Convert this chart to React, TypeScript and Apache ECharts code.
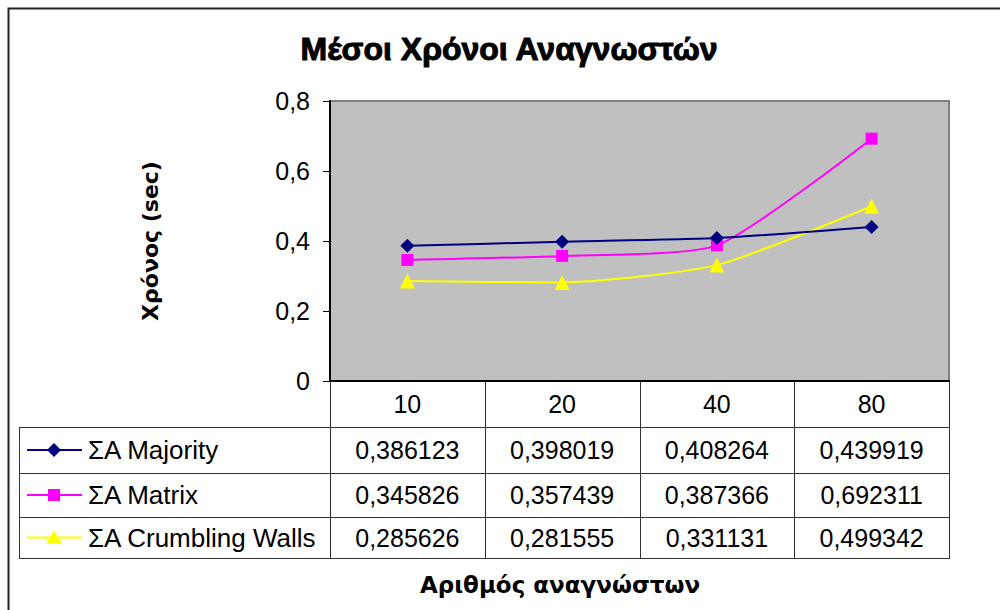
import React, { useEffect, useRef } from "react";
import * as echarts from "echarts";

const categories = ["10", "20", "40", "80"];
const seriesNames = ["ΣΑ Majority", "ΣΑ Matrix", "ΣΑ Crumbling Walls"];
const majority = [0.386123, 0.398019, 0.408264, 0.439919];
const matrix = [0.345826, 0.357439, 0.387366, 0.692311];
const crumbling = [0.285626, 0.281555, 0.331131, 0.499342];
const yTicks = [0, 0.2, 0.4, 0.6, 0.8];

const colors = ["#000080", "#FF00FF", "#FFFF00"];
const symbols = ["diamond", "rect", "triangle"];
const symbolSizes = [14, 12, 15];

const PLOT_L = 330;
const PLOT_R = 949;
const PLOT_T = 101;
const PLOT_B = 381;
const TABLE_L = 19;
const ROW_LINES = [381, 427, 473, 517, 558];
const FONT = "'Liberation Sans', Arial, sans-serif";
const TFS = 25;

const fmt = (v: number) => v.toFixed(6).replace(".", ",");

export default function App() {
  const ref = useRef<HTMLDivElement>(null);
  useEffect(() => {
    if (!ref.current) return;
    const chart = echarts.init(ref.current, undefined, { renderer: "svg" });
    const data = [majority, matrix, crumbling];
    const colW = (PLOT_R - PLOT_L) / categories.length;
    const lineColor = "#333333";
    const graphic: any[] = [];
    // outer border
    graphic.push({
      type: "rect",
      shape: { x: 8.5, y: 8.5, width: 1100, height: 700 },
      style: { fill: "none", stroke: "#222", lineWidth: 2 },
      silent: true,
    });
    // table vertical lines
    for (let i = 0; i <= categories.length; i++) {
      const x = Math.round(PLOT_L + i * colW) + 0.5;
      graphic.push({
        type: "line",
        shape: { x1: x, y1: PLOT_B, x2: x, y2: ROW_LINES[4] },
        style: { stroke: lineColor, lineWidth: 1 },
      });
    }
    graphic.push({
      type: "line",
      shape: { x1: TABLE_L + 0.5, y1: ROW_LINES[1], x2: TABLE_L + 0.5, y2: ROW_LINES[4] },
      style: { stroke: lineColor, lineWidth: 1 },
    });
    for (let r = 1; r < ROW_LINES.length; r++) {
      graphic.push({
        type: "line",
        shape: { x1: TABLE_L, y1: ROW_LINES[r] + 0.5, x2: PLOT_R + 1, y2: ROW_LINES[r] + 0.5 },
        style: { stroke: lineColor, lineWidth: 1 },
      });
    }
    // table rows
    for (let s = 0; s < seriesNames.length; s++) {
      const cy = (ROW_LINES[s + 1] + ROW_LINES[s + 2]) / 2;
      graphic.push({
        type: "line",
        shape: { x1: 27, y1: cy, x2: 82, y2: cy },
        style: { stroke: colors[s], lineWidth: 2 },
      });
      const mx = 54;
      if (s === 0) {
        graphic.push({
          type: "polygon",
          shape: { points: [[mx, cy - 7], [mx + 7, cy], [mx, cy + 7], [mx - 7, cy]] },
          style: { fill: colors[s] },
        });
      } else if (s === 1) {
        graphic.push({
          type: "rect",
          shape: { x: mx - 6, y: cy - 6, width: 12, height: 12 },
          style: { fill: colors[s] },
        });
      } else {
        graphic.push({
          type: "polygon",
          shape: { points: [[mx, cy - 7], [mx + 8, cy + 6], [mx - 8, cy + 6]] },
          style: { fill: colors[s] },
        });
      }
      graphic.push({
        type: "text",
        x: 88,
        y: cy,
        style: {
          text: seriesNames[s],
          font: `26px ${FONT}`,
          fill: "#000",
          textVerticalAlign: "middle",
          textAlign: "left",
        },
      });
      for (let c = 0; c < categories.length; c++) {
        graphic.push({
          type: "text",
          x: PLOT_L + (c + 0.5) * colW,
          y: cy,
          style: {
            text: fmt(data[s][c]),
            font: `${TFS}px ${FONT}`,
            fill: "#000",
            textAlign: "center",
            textVerticalAlign: "middle",
          },
        });
      }
    }
    // axis titles
    graphic.push({
      type: "text",
      x: 560,
      y: 585,
      style: {
        text: "Αριθμός αναγνώστων",
        font: "bold 23px 'DejaVu Sans', Verdana, sans-serif",
        fill: "#000",
        textAlign: "center",
        textVerticalAlign: "middle",
      },
    });
    graphic.push({
      type: "text",
      x: 150,
      y: 241,
      rotation: Math.PI / 2,
      style: {
        text: "Χρόνος (sec)",
        font: "bold 22px 'DejaVu Sans', Verdana, sans-serif",
        fill: "#000",
        textAlign: "center",
        textVerticalAlign: "middle",
      },
    });

    chart.setOption({
      animation: false,
      backgroundColor: "#ffffff",
      title: {
        text: "Μέσοι Χρόνοι Αναγνωστών",
        left: 509,
        textAlign: "center",
        top: 33,
        textStyle: {
          fontFamily: FONT,
          fontWeight: "bold",
          fontSize: 32,
          color: "#000",
          textBorderColor: "#000",
          textBorderWidth: 1,
        },
        padding: 0,
      },
      grid: {
        left: PLOT_L,
        top: PLOT_T,
        right: 1000 - PLOT_R,
        bottom: 610 - PLOT_B,
        show: true,
        backgroundColor: "#C0C0C0",
        borderColor: "#808080",
        borderWidth: 2,
      },
      xAxis: {
        type: "category",
        data: categories,
        boundaryGap: true,
        axisLine: { show: true, lineStyle: { color: "#000", width: 2 } },
        axisTick: { show: false },
        axisLabel: { fontFamily: FONT, fontSize: TFS, color: "#000", margin: 10 },
        splitLine: { show: false },
      },
      yAxis: {
        type: "value",
        min: yTicks[0],
        max: yTicks[yTicks.length - 1],
        interval: 0.2,
        axisLine: { show: true, lineStyle: { color: "#000", width: 2 } },
        axisTick: { show: true, length: 7, lineStyle: { color: "#000", width: 1 } },
        axisLabel: {
          fontFamily: FONT,
          fontSize: TFS,
          color: "#000",
          margin: 20,
          formatter: (v: number) => (v === 0 ? "0" : v.toFixed(1).replace(".", ",")),
        },
        splitLine: { show: false },
      },
      series: data.map((d, i) => ({
        name: seriesNames[i],
        type: "line",
        data: d,
        smooth: 0.2,
        symbol: symbols[i],
        symbolSize: symbolSizes[i],
        showSymbol: true,
        lineStyle: { color: colors[i], width: 2 },
        itemStyle: { color: colors[i] },
        z: 3 - i,
      })),
      graphic,
    });
    return () => chart.dispose();
  }, []);
  return (
    <div
      ref={ref}
      style={{ position: "fixed", left: 0, top: 0, width: 1000, height: 610 }}
    />
  );
}
